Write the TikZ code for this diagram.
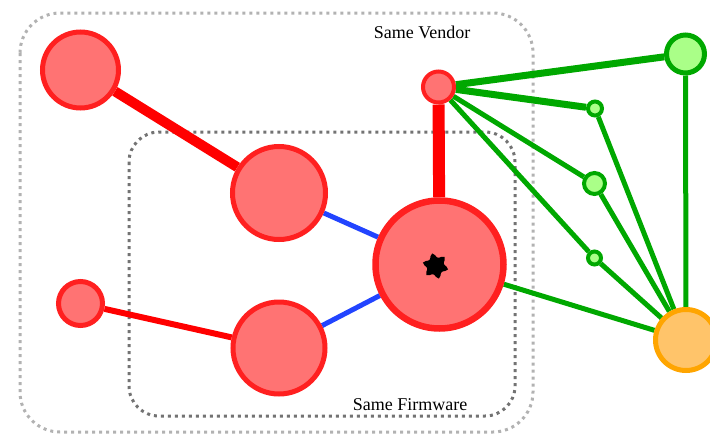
\documentclass[tikz,border=0pt]{standalone}
\usepackage{fontspec}
\setmainfont{Liberation Serif}
\usetikzlibrary{shapes.geometric}
\definecolor{rfill}{HTML}{FF7373}
\definecolor{rline}{HTML}{FF2020}
\definecolor{redge}{HTML}{FF0000}
\definecolor{bedge}{HTML}{2244FF}
\definecolor{gline}{HTML}{00A800}
\definecolor{gfill}{HTML}{AAFF88}
\definecolor{oline}{HTML}{FFA500}
\definecolor{ofill}{HTML}{FFC46A}
\pgfdeclarelayer{bg}
\pgfsetlayers{bg,main}
\begin{document}
\begin{tikzpicture}[x=1pt,y=-1pt,
  rnode/.style={circle,draw=rline,fill=rfill,inner sep=0pt},
  gnode/.style={circle,draw=gline,fill=gfill,inner sep=0pt},
  onode/.style={circle,draw=oline,fill=ofill,inner sep=0pt},
  redg/.style={draw=redge,line cap=butt},
  bedg/.style={draw=bedge,line width=5pt},
  gedg/.style={draw=gline},
  grpbox/.style={rounded corners=#1,line width=3pt,dash pattern=on 3pt off 4pt},
  lbl/.style={font=\fontsize{18}{20}\selectfont,inner sep=0pt}]
\useasboundingbox (0,0) rectangle (710,434);
% nodes
\node[rnode,line width=5pt,minimum size=76pt] (A) at (80.5,70) {};
\node[rnode,line width=5pt,minimum size=93pt] (B) at (279,193) {};
\node[rnode,line width=5pt,minimum size=44pt] (C) at (80.5,303.5) {};
\node[rnode,line width=5pt,minimum size=92pt] (D) at (279,348) {};
\node[rnode,line width=6.5pt,minimum size=128pt] (E) at (439.5,264.5) {};
\node[rnode,line width=4pt,minimum size=31pt] (F) at (438.5,87) {};
\node[gnode,line width=5pt,minimum size=38pt] (G) at (685.5,54) {};
\node[gnode,line width=4pt,minimum size=14pt] (H1) at (595,108.5) {};
\node[gnode,line width=4pt,minimum size=21pt] (H2) at (594.5,183.5) {};
\node[gnode,line width=4pt,minimum size=13pt] (H3) at (594.5,258) {};
\node[onode,line width=5pt,minimum size=61pt] (I) at (686,340) {};
\node[star,star points=6,star point ratio=2.1,fill=black,draw=black,line width=3pt,rounded corners=3pt,minimum size=25pt,inner sep=0pt,rotate=15] (S) at (435.5,266) {};
\node[lbl] (tv) at (422,32) {Same Vendor};
\node[lbl] (tf) at (410,405) {Same Firmware};
\begin{pgfonlayer}{bg}
% group boxes
\draw[grpbox=40pt,draw=black!30] (20,13) rectangle (533,432);
\draw[grpbox=30pt,draw=black!55] (129,132) rectangle (515,416);
% edges
\draw[redg,line width=10pt] (A) -- (B);
\draw[redg,line width=6pt] (C) -- (D);
\draw[redg,line width=12pt] (F) -- (E);
\draw[bedg] (B) -- (E);
\draw[bedg] (D) -- (E);
\draw[gedg,line width=7pt] (F) -- (G);
\draw[gedg,line width=7pt] (F) -- (H1);
\draw[gedg,line width=5pt] (F) -- (H2);
\draw[gedg,line width=5pt] (F) -- (H3);
\draw[gedg,line width=5pt] (H1) -- (I);
\draw[gedg,line width=5pt] (H2) -- (I);
\draw[gedg,line width=5pt] (H3) -- (I);
\draw[gedg,line width=5pt] (G) -- (I);
\draw[gedg,line width=5pt] (E) -- (I);
\end{pgfonlayer}
\end{tikzpicture}
\end{document}
